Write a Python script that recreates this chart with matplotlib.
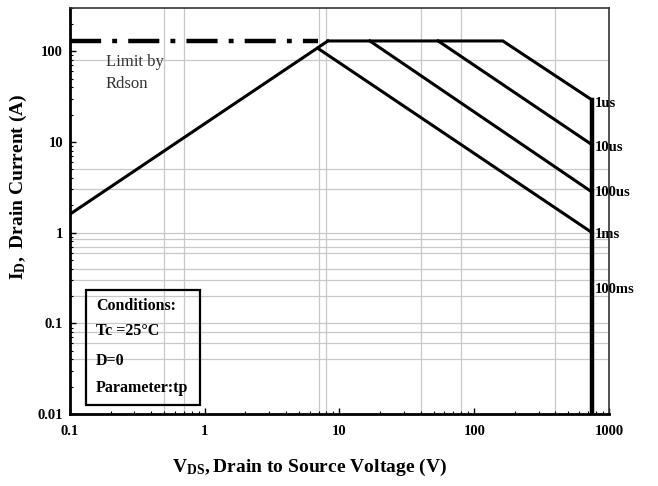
import matplotlib
matplotlib.use("Agg")
import matplotlib.pyplot as plt
from matplotlib.patches import Rectangle

plt.rcParams['font.family'] = ['Liberation Serif', 'DejaVu Serif']
plt.rcParams['mathtext.fontset'] = 'custom'
plt.rcParams['mathtext.rm'] = 'Liberation Serif'
plt.rcParams['mathtext.bf'] = 'Liberation Serif:bold'

# data
rdson_v = [0.1, 8.2]
rdson_i = [1.6, 130]
dash_v = [0.1, 6.9]
dash_i = [130, 130]
us1_v = [8.2, 163, 750, 750]
us1_i = [130, 130, 29, 0.01]
us10_v = [54, 750]
us10_i = [130, 9.3]
us100_v = [16.8, 750]
us100_i = [130, 2.8]
ms1_v = [6.9, 750]
ms1_i = [108, 1.0]

curve_labels = ['1us', '10us', '100us', '1ms', '100ms']
label_i = [26.8, 8.6, 2.75, 0.95, 0.236]

grid_x = [0.5, 0.7, 7, 8, 40, 80, 400]
grid_y = [80, 5, 3, 1, 0.85, 0.7, 0.6, 0.4, 0.3, 0.2, 0.1, 0.08, 0.06, 0.04]

x_ticks = [0.1, 1, 10, 100, 1000]
x_ticklabels = ['0.1', '1', '10', '100', '1000']
y_ticks = [0.01, 0.1, 1, 10, 100]
y_ticklabels = ['0.01', '0.1', '1', '10', '100']

fig = plt.figure(figsize=(6.58, 4.86), dpi=100)
ax = fig.add_axes([0.1064, 0.148, 0.8191, 0.8355])
ax.set_xscale('log')
ax.set_yscale('log')
ax.set_xlim(0.1, 1000)
ax.set_ylim(0.01, 300)

for gx in grid_x:
    ax.axvline(gx, color='#c8c8c8', lw=0.9, zorder=0)
for gy in grid_y:
    ax.axhline(gy, color='#c8c8c8', lw=0.9, zorder=0)

ax.plot(dash_v, dash_i, color='black', lw=3.2, linestyle=(0, (7, 2.5, 1.1, 2.5)))
for v, i in [(rdson_v, rdson_i), (us1_v, us1_i), (us10_v, us10_i),
             (us100_v, us100_i), (ms1_v, ms1_i)]:
    ax.plot(v, i, color='black', lw=2.2, solid_joinstyle='miter')
ax.plot([750, 750], [29, 0.01], color='black', lw=3.2)

for lab, yi in zip(curve_labels, label_i):
    ax.text(785, yi, lab, fontsize=10.5, fontweight='bold', va='center', ha='left',
            clip_on=False)

ax.text(0.185, 57, 'Limit by\nRdson', fontsize=12, color='#333333',
        va='center', ha='left', linespacing=1.5)

ax.add_patch(Rectangle((0.03, 0.022), 0.211, 0.283, transform=ax.transAxes,
                       fill=False, edgecolor='black', lw=1.6, zorder=5))
cond_lines = ['Conditions:', 'Tc =25\u00b0C', 'D=0', 'Parameter:tp']
cond_y = [0.265, 0.205, 0.13, 0.063]
for txt, yy in zip(cond_lines, cond_y):
    ax.text(0.048, yy, txt, transform=ax.transAxes, fontsize=11.5,
            fontweight='bold', va='center', ha='left')

ax.set_xticks(x_ticks)
ax.set_xticklabels(x_ticklabels)
ax.set_yticks(y_ticks)
ax.set_yticklabels(y_ticklabels)
for lbl in ax.get_xticklabels() + ax.get_yticklabels():
    lbl.set_fontweight('bold')
    lbl.set_fontsize(10.5)
ax.tick_params(which='both', direction='in', top=False, right=False)
ax.tick_params(which='major', length=4, width=1)
ax.tick_params(which='minor', length=2.5, width=0.8)
ax.tick_params(axis='x', pad=8)
ax.tick_params(axis='y', pad=5)

ax.spines['left'].set_linewidth(2)
ax.spines['bottom'].set_linewidth(2)
ax.spines['top'].set_linewidth(1.2)
ax.spines['right'].set_linewidth(1.2)
ax.spines['top'].set_color('#333333')
ax.spines['right'].set_color('#333333')

ax.set_xlabel(r'$\mathbf{V_{DS},}$Drain to Source Voltage (V)', fontsize=14,
              fontweight='bold')
ax.xaxis.set_label_coords(0.445, -0.105)
ax.set_ylabel(r'$\mathbf{I_{D},}$ Drain Current (A)', fontsize=14,
              fontweight='bold')
ax.yaxis.set_label_coords(-0.076, 0.56)

fig.savefig('out.png', dpi=100)
